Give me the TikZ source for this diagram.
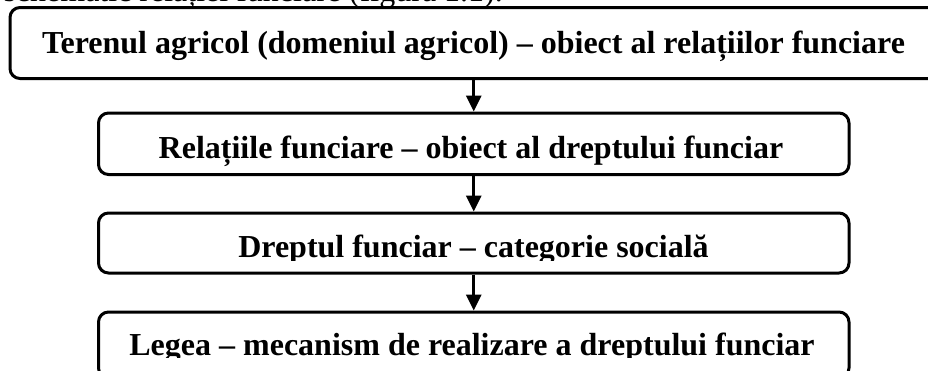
\documentclass[tikz,border=0pt]{standalone}
\usepackage{fontspec}
\setmainfont{Liberation Serif}
\usetikzlibrary{arrows.meta}
\tikzset{
  boxstyle/.style={draw=black, line width=3pt, rounded corners=10pt, inner sep=0pt},
  boxtext/.style={anchor=base, inner sep=0pt, font=\fontsize{32}{36}\selectfont\bfseries},
  arr/.style={line width=3pt, -{Triangle[length=16pt,width=15pt]}},
}
\begin{document}
\begin{tikzpicture}[x=1pt,y=-1pt]
\useasboundingbox (0,0) rectangle (928,370);
\node[anchor=base east, inner sep=0pt, font=\fontsize{32}{36}\selectfont] (cap) at (503,1.5) {schematic relației funciare (figura 1.1).};
\node[boxstyle, minimum width=935pt, minimum height=71pt] (b1) at (477.5,43) {};
\node[boxstyle, minimum width=750.5pt, minimum height=61.5pt] (b2) at (473.75,143.75) {};
\node[boxstyle, minimum width=750.5pt, minimum height=60pt] (b3) at (473.75,243) {};
\node[boxstyle, minimum width=750.5pt, minimum height=66pt] (b4) at (473.75,345) {};
\node[boxtext] (t1) at (473.5,53) {Terenul agricol (domeniul agricol) – obiect al relațiilor funciare};
\node[boxtext] (t2) at (471,158) {Relațiile funciare – obiect al dreptului funciar};
\begin{scope}
\clip (0,200) rectangle (928,260);
\node[boxtext] (t3) at (473.5,257) {Dreptul funciar – categorie socială};
\end{scope}
\begin{scope}
\clip (0,300) rectangle (928,357.5);
\node[boxtext] (t4) at (472,355) {Legea – mecanism de realizare a dreptului funciar};
\end{scope}
\draw[arr] (b1.south -| b2.north) -- (b2.north);
\draw[arr] (b2.south) -- (b3.north);
\draw[arr] (b3.south) -- (b4.north);
\end{tikzpicture}
\end{document}
